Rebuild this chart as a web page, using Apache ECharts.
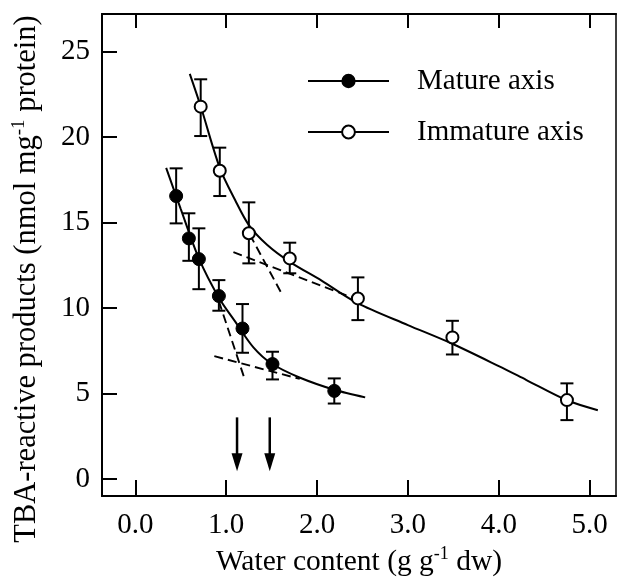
<!DOCTYPE html>
<html>
<head>
<meta charset="utf-8">
<script src="https://cdn.jsdelivr.net/npm/echarts@6/dist/echarts.min.js"></script>
<style>
html,body{margin:0;padding:0;background:#fff;}
#c{width:617px;height:583px;}
</style>
</head>
<body>
<div id="c"></div>
<script>
// ---- data ----
const xTicks = [0, 1, 2, 3, 4, 5];
const yTicks = [0, 5, 10, 15, 20, 25];

const matureX    = [0.45, 0.59, 0.70, 0.92, 1.18, 1.51, 2.19];
const matureY    = [16.55, 14.07, 12.86, 10.70, 8.80, 6.72, 5.15];
const matureLow  = [14.95, 12.76, 11.10, 9.84, 7.38, 5.82, 4.41];
const matureHigh = [18.17, 15.54, 14.66, 11.63, 10.23, 7.44, 5.88];

const immatureX    = [0.72, 0.93, 1.25, 1.70, 2.45, 3.49, 4.75];
const immatureY    = [21.78, 18.03, 14.37, 12.90, 10.56, 8.28, 4.61];
const immatureLow  = [20.06, 16.55, 12.61, 12.03, 9.29, 7.28, 3.44];
const immatureHigh = [23.38, 19.38, 16.18, 13.82, 11.79, 9.25, 5.59];

// fitted curves
const matureCurveX = [0.34, 0.50, 0.70, 0.92, 1.10, 1.30, 1.50, 1.80, 2.20, 2.53];
const matureCurveY = [18.2, 15.8, 12.9, 10.6, 9.2, 7.7, 6.75, 5.95, 5.2, 4.77];
const immatureCurveX = [0.60, 0.72, 0.93, 1.10, 1.25, 1.45, 1.70, 2.05, 2.44, 3.00, 3.47, 4.00, 4.30, 4.75, 5.09];
const immatureCurveY = [23.7, 21.8, 18.2, 16.3, 14.85, 13.7, 12.7, 11.6, 10.3, 9.0, 7.95, 6.6, 5.8, 4.6, 4.02];

// dashed tangent lines [x0, y0, x1, y1]
const matureSteep    = [0.92, 10.4, 1.20, 5.9];
const matureShallow  = [0.87, 7.18, 1.81, 5.85];
const immatureSteep  = [1.26, 14.3, 1.61, 10.85];
const immatureShallow= [1.08, 13.27, 2.40, 10.58];

// arrows [x, yTop, yTip]
const arrowX = [1.12, 1.48];
const arrowTop = 3.6;
const arrowTip = 0.45;

const xMin = -0.366, xMax = 5.29;
const yMin = -1.0, yMax = 27.2;

// ---- build ----
const FONT = "'Liberation Serif','Times New Roman',serif";
const zip2 = (a, b) => a.map((v, i) => [v, b[i]]);
const zip3 = (a, b, c) => a.map((v, i) => [v, b[i], c[i]]);
const seg = s => [[s[0], s[1]], [s[2], s[3]]];

function errRender(params, api) {
  const x = api.value(0), lo = api.value(1), hi = api.value(2);
  const p1 = api.coord([x, lo]), p2 = api.coord([x, hi]);
  const w = 6.5;
  const st = {stroke: '#000', lineWidth: 2};
  return {type: 'group', children: [
    {type: 'line', shape: {x1: p1[0], y1: p1[1], x2: p2[0], y2: p2[1]}, style: st},
    {type: 'line', shape: {x1: p1[0] - w, y1: p1[1], x2: p1[0] + w, y2: p1[1]}, style: st},
    {type: 'line', shape: {x1: p2[0] - w, y1: p2[1], x2: p2[0] + w, y2: p2[1]}, style: st}
  ]};
}

function arrowRender(params, api) {
  const x = api.value(0);
  const a = api.coord([x, api.value(1)]);
  const b = api.coord([x, api.value(2)]);
  const headL = 18, headW = 5.5;
  return {type: 'group', children: [
    {type: 'line', shape: {x1: a[0], y1: a[1], x2: b[0], y2: b[1] - headL + 2}, style: {stroke: '#000', lineWidth: 2.5}},
    {type: 'polygon', shape: {points: [[b[0] - headW, b[1] - headL], [b[0] + headW, b[1] - headL], [b[0], b[1]]]}, style: {fill: '#000'}}
  ]};
}

const dashStyle = {color: '#000', width: 1.9, type: [9, 5]};
const tickStyle = {color: '#000', width: 2};

const option = {
  animation: false,
  backgroundColor: '#fff',
  grid: {left: 102, top: 14, right: 1, bottom: 87, show: true, borderColor: '#000', borderWidth: 1.5, outerBoundsMode: 'none', containLabel: false},
  legend: {
    orient: 'vertical', left: 302, top: 61, itemWidth: 81, itemHeight: 16, itemGap: 21,
    selectedMode: false,
    textStyle: {fontFamily: FONT, fontSize: 29, color: '#000', lineHeight: 30, padding: [0, 0, 0, 23]},
    data: [
      {name: 'Mature axis', itemStyle: {color: '#000', borderColor: '#000', borderWidth: 1.5}, lineStyle: {color: '#000', width: 2, opacity: 1}},
      {name: 'Immature axis', itemStyle: {color: '#fff', borderColor: '#000', borderWidth: 2}, lineStyle: {color: '#000', width: 2, opacity: 1}}
    ]
  },
  xAxis: [{
    type: 'value', min: xMin, max: xMax, position: 'bottom',
    axisLine: {show: true, onZero: false, lineStyle: {color: '#000', width: 2}},
    axisTick: {show: true, inside: true, length: 16, lineStyle: tickStyle, customValues: xTicks},
    axisLabel: {show: true, customValues: xTicks, margin: 15, formatter: v => v.toFixed(1), fontFamily: FONT, fontSize: 29, color: '#000'},
    splitLine: {show: false},
    name: 'Water content (g g{sup|-1} dw)', nameLocation: 'middle', nameGap: 49,
    nameTextStyle: {fontFamily: FONT, fontSize: 29.5, color: '#000', lineHeight: 34,
      rich: {sup: {fontFamily: FONT, fontSize: 18, lineHeight: 18, verticalAlign: 'top', color: '#000'}}}
  }, {
    type: 'value', min: xMin, max: xMax, position: 'top',
    axisLine: {show: true, onZero: false, lineStyle: {color: '#000', width: 2}},
    axisTick: {show: true, inside: true, length: 14, lineStyle: tickStyle, customValues: xTicks},
    axisLabel: {show: false},
    splitLine: {show: false}
  }],
  yAxis: [{
    type: 'value', min: yMin, max: yMax,
    axisLine: {show: true, onZero: false, lineStyle: {color: '#000', width: 2}},
    axisTick: {show: true, inside: true, length: 15, lineStyle: tickStyle, customValues: yTicks},
    axisLabel: {show: true, customValues: yTicks, margin: 12, fontFamily: FONT, fontSize: 29, color: '#000'},
    splitLine: {show: false},
    name: 'TBA-reactive products (nmol mg{sup|-1} protein)', nameLocation: 'middle', nameGap: 58, nameRotate: 90,
    nameTextStyle: {fontFamily: FONT, fontSize: 30.5, color: '#000', lineHeight: 34, padding: [0, 48, 0, 0],
      rich: {sup: {fontFamily: FONT, fontSize: 19, lineHeight: 19, verticalAlign: 'top', color: '#000'}}}
  }],
  series: [
    {type: 'line', name: 'curveMature', data: zip2(matureCurveX, matureCurveY), smooth: 0.3, showSymbol: false, symbol: 'none', lineStyle: {color: '#000', width: 2}, z: 2, silent: true},
    {type: 'line', name: 'curveImmature', data: zip2(immatureCurveX, immatureCurveY), smooth: 0.3, showSymbol: false, symbol: 'none', lineStyle: {color: '#000', width: 2}, z: 2, silent: true},
    {type: 'line', name: 'd1', data: seg(matureSteep), symbol: 'none', lineStyle: dashStyle, z: 2, silent: true},
    {type: 'line', name: 'd2', data: seg(matureShallow), symbol: 'none', lineStyle: dashStyle, z: 2, silent: true},
    {type: 'line', name: 'd3', data: seg(immatureSteep), symbol: 'none', lineStyle: dashStyle, z: 2, silent: true},
    {type: 'line', name: 'd4', data: seg(immatureShallow), symbol: 'none', lineStyle: dashStyle, z: 2, silent: true},
    {type: 'custom', name: 'errMature', data: zip3(matureX, matureLow, matureHigh), renderItem: errRender, z: 3, silent: true},
    {type: 'custom', name: 'errImmature', data: zip3(immatureX, immatureLow, immatureHigh), renderItem: errRender, z: 3, silent: true},
    {type: 'custom', name: 'arrows', data: arrowX.map(x => [x, arrowTop, arrowTip]), renderItem: arrowRender, z: 3, silent: true},
    {type: 'line', name: 'Mature axis', data: zip2(matureX, matureY), symbol: 'circle', symbolSize: 13,
      itemStyle: {color: '#000', borderColor: '#000', borderWidth: 1}, lineStyle: {width: 0, opacity: 0}, z: 5, silent: true},
    {type: 'line', name: 'Immature axis', data: zip2(immatureX, immatureY), symbol: 'circle', symbolSize: 12,
      itemStyle: {color: '#fff', borderColor: '#000', borderWidth: 2}, lineStyle: {width: 0, opacity: 0}, z: 5, silent: true}
  ]
};

const chart = echarts.init(document.getElementById('c'), null, {renderer: 'canvas'});
chart.setOption(option);
</script>
</body>
</html>
